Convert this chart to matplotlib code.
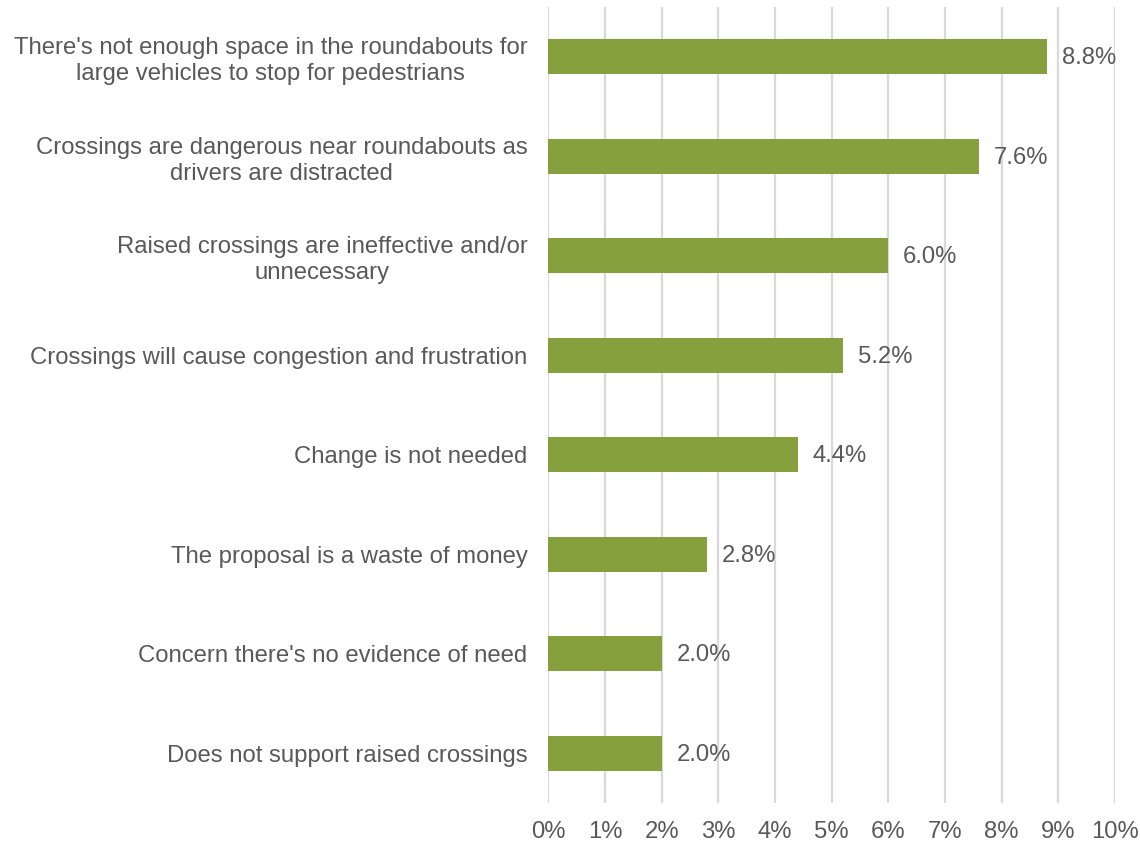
import matplotlib
matplotlib.use("Agg")
import matplotlib.pyplot as plt
from matplotlib.ticker import PercentFormatter

# Reasons given against the proposal, share of responses (%)
reasons = [
    "There's not enough space in the roundabouts for\nlarge vehicles to stop for pedestrians",
    "Crossings are dangerous near roundabouts as\ndrivers are distracted",
    "Raised crossings are ineffective and/or\nunnecessary",
    "Crossings will cause congestion and frustration",
    "Change is not needed",
    "The proposal is a waste of money",
    "Concern there's no evidence of need",
    "Does not support raised crossings",
]
shares = [8.8, 7.6, 6.0, 5.2, 4.4, 2.8, 2.0, 2.0]
x_ticks = list(range(0, 11))

plt.rcParams["font.family"] = ["Liberation Sans", "DejaVu Sans"]
text_color = "#595959"
fs = 17.2

fig = plt.figure(figsize=(11.4, 8.46), dpi=100)
ax = fig.add_axes([0.4811, 0.0508, 0.4970, 0.9409])

y = list(range(len(reasons)))
ax.barh(y, shares, height=0.355, color="#87A03E", zorder=3)
ax.set_ylim(len(reasons) - 0.5, -0.5)
ax.set_xlim(0, 10)

for yi, v in zip(y, shares):
    ax.annotate(f"{v:.1f}%", xy=(v, yi), xytext=(10.5, -1), textcoords="offset points",
                va="center", ha="left", fontsize=fs, color=text_color)

ax.set_yticks(y)
ax.set_yticklabels(reasons, fontsize=fs, color=text_color, multialignment="center",
                   linespacing=1.22)
ax.set_xticks(x_ticks)
ax.xaxis.set_major_formatter(PercentFormatter(decimals=0))
ax.tick_params(axis="x", labelsize=fs, colors=text_color, length=0, pad=13)
ax.tick_params(axis="y", length=0, pad=15)

ax.grid(axis="x", color="#D9D9D9", linewidth=1.6, zorder=0)
for s in ax.spines.values():
    s.set_visible(False)

fig.savefig("out.png", dpi=100)
